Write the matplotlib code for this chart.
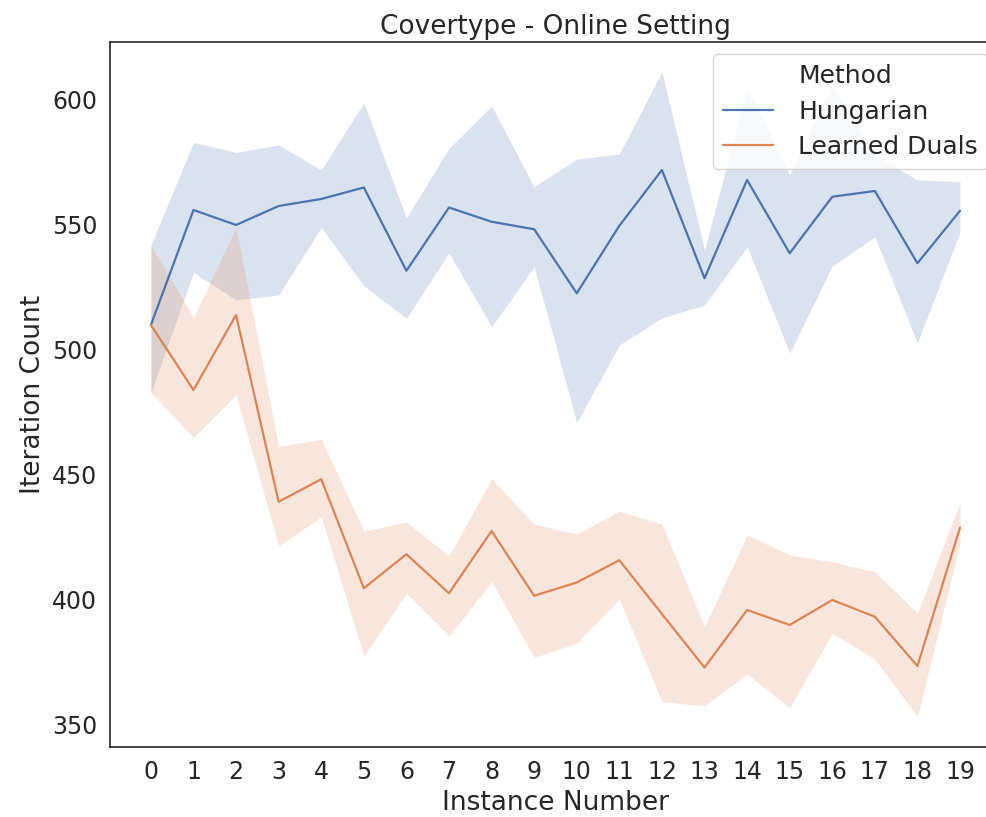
import matplotlib
matplotlib.use("Agg")
import matplotlib.pyplot as plt
import seaborn as sns

# Values (mean line and confidence band per instance)
instances = list(range(20))

hung_mean = [510, 556, 550, 557.6, 560.4, 565, 531.7, 557, 551.3, 548.3,
             522.7, 549.7, 572, 528.7, 568, 538.7, 561.3, 563.6, 534.7, 555.7]
hung_upper = [542, 583, 579, 582, 572, 598.9, 552.7, 580.7, 597.6, 565.3,
              576.4, 578.4, 611.3, 540, 604.7, 570, 606, 578, 568, 567.3]
hung_lower = [483, 531, 520, 522, 549, 525.7, 512.7, 538.9, 509.3, 533.3,
              471, 502, 512.8, 518, 541.3, 498.8, 533.6, 545.3, 502.8, 547.3]

dual_mean = [510, 484, 514, 439.3, 448.3, 404.7, 418.3, 402.7, 427.6, 401.7,
             407, 415.9, 394.4, 373, 396, 390, 400, 393.3, 373.6, 429]
dual_upper = [542, 513, 549, 461.3, 464.3, 427.6, 431.2, 417.6, 448.4, 430.4,
              426.3, 435.6, 430.3, 389.3, 426, 418, 415.3, 411.3, 394.7, 439]
dual_lower = [483, 465, 482, 421.6, 433.3, 377.6, 402.7, 385.6, 407.3, 377,
              382.7, 400.4, 359.3, 357.7, 370.4, 357, 386.7, 376.4, 353.3, 422.7]

sns.set_theme(style="white")
plt.rcParams["font.family"] = ["DejaVu Sans"]

blue, orange = sns.color_palette("deep")[0], sns.color_palette("deep")[1]

fig = plt.figure(figsize=(9.86, 8.17), dpi=100)
# the original was cropped on the right, so the axes run past the figure edge
ax = fig.add_axes([0.112, 0.0857, 0.9027, 0.8629])

ax.fill_between(instances, hung_lower, hung_upper, color=blue, alpha=0.2, linewidth=0)
ax.fill_between(instances, dual_lower, dual_upper, color=orange, alpha=0.2, linewidth=0)
# old seaborn legends put the hue name in as a blank entry
ax.plot([], [], color="none", label="Method")
ax.plot(instances, hung_mean, color=blue, lw=1.6, label="Hungarian")
ax.plot(instances, dual_mean, color=orange, lw=1.6, label="Learned Duals")

ax.set_xlim(-0.95, 19.95)
ax.set_ylim(341.2, 623.2)
ax.set_xticks(instances)
ax.set_yticks([350, 400, 450, 500, 550, 600])
ax.tick_params(labelsize=17)
ax.set_xlabel("Instance Number", fontsize=19)
ax.set_ylabel("Iteration Count", fontsize=19)
ax.set_title("Covertype - Online Setting", fontsize=19)

for s in ax.spines.values():
    s.set_color("#262626")
    s.set_linewidth(1.2)
ax.spines["right"].set_visible(False)

leg = ax.legend(loc="upper right", fontsize=18, labelspacing=0.45,
                handletextpad=1.0, frameon=True)

fig.savefig("out.png", dpi=100)
